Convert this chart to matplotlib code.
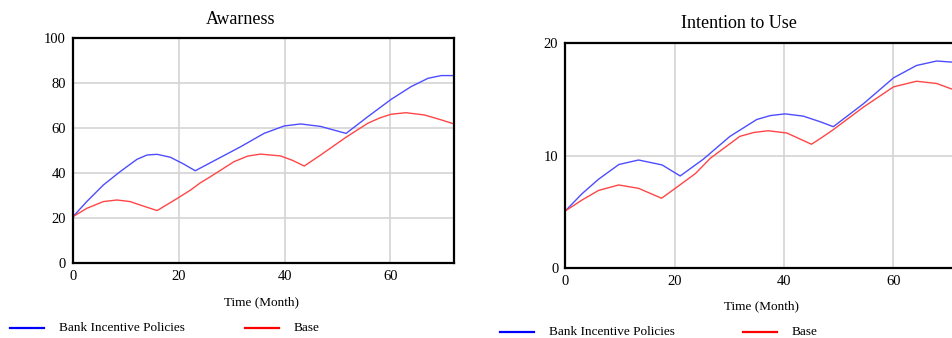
import matplotlib
matplotlib.use('Agg')
import matplotlib.pyplot as plt
from matplotlib.lines import Line2D

plt.rcParams['font.family'] = ['Liberation Serif', 'DejaVu Serif']

# Awarness
aw_bank_t = [0, 2.6, 5.75, 8.9, 12.1, 14.0, 15.9, 18.4, 20.9, 23.1, 27.2, 31.7, 36.1, 39.9,
             43.0, 46.8, 51.6, 55.7, 60.1, 63.9, 67.1, 69.6, 72]
aw_bank_v = [20.6, 27.3, 34.7, 40.6, 46.1, 48.0, 48.3, 47.0, 44, 41.0, 46.1, 51.7, 57.6, 60.9,
             61.8, 60.7, 57.6, 65, 72.7, 78.4, 82.1, 83.3, 83.3]
aw_base_t = [0, 2.6, 5.75, 8.3, 10.8, 13.3, 15.9, 19.7, 22.2, 24.1, 26, 30.4, 33, 35.4, 39.2,
             41.5, 43.7, 46.8, 51.6, 55.7, 58, 60.1, 62.9, 66.4, 69.6, 72]
aw_base_v = [20.6, 24.3, 27.3, 28, 27.3, 25.3, 23.3, 28.7, 32.4, 35.7, 38.4, 45.0, 47.5, 48.4,
             47.6, 45.6, 43.1, 48, 55.9, 62.1, 64.5, 66.1, 66.8, 65.8, 63.6, 61.8]

# Intention to Use
iu_bank_t = [0, 3.05, 6.1, 9.8, 13.4, 17.7, 21.0, 25.2, 30.1, 35.0, 37.5, 40.2, 43.5, 46.6,
             49.0, 54.5, 60, 64.2, 67.9, 70.7, 72]
iu_bank_v = [5.07, 6.6, 7.9, 9.2, 9.6, 9.16, 8.18, 9.66, 11.7, 13.2, 13.55, 13.7, 13.5, 13.0,
             12.56, 14.6, 16.9, 18.0, 18.4, 18.3, 18.2]
iu_base_t = [0, 3.05, 6.1, 9.76, 13.4, 17.6, 20.1, 23.8, 26.5, 31.9, 34.5, 37.1, 40.5, 45.0,
             46.6, 49.0, 54.5, 60, 64.2, 67.9, 70.7, 72]
iu_base_v = [5.07, 6.04, 6.9, 7.38, 7.08, 6.2, 7.08, 8.4, 9.75, 11.7, 12.05, 12.2, 12.0, 11.0,
             11.5, 12.3, 14.3, 16.1, 16.6, 16.4, 15.9, 15.6]

x_ticks = [0, 20, 40, 60]
series_names = ['Bank Incentive Policies', 'Base']

W, H = 952, 338
fig = plt.figure(figsize=(W / 100, H / 100), dpi=100)


def px(x, y):
    return x / W, 1 - y / H


def setup(ax, ymax, yticks):
    ax.set_xlim(0, 72)
    ax.set_ylim(0, ymax)
    ax.set_xticks(x_ticks)
    ax.set_yticks(yticks)
    ax.grid(True, color='#d4d4d4', linewidth=1.2)
    ax.set_axisbelow(True)
    for s in ax.spines.values():
        s.set_linewidth(1.6)
        s.set_color('black')
    ax.tick_params(length=0, pad=5, labelsize=10.5, colors='black')


ax1 = fig.add_axes([73 / W, 1 - 263 / H, (454 - 73) / W, 225 / H])
setup(ax1, 100, [0, 20, 40, 60, 80, 100])
ax1.plot(aw_bank_t, aw_bank_v, color='#4d4dff', lw=1.0)
ax1.plot(aw_base_t, aw_base_v, color='#ff4646', lw=1.0)

ax2 = fig.add_axes([565.3 / W, 1 - 268 / H, 72 * 5.47 / W, 225 / H])
setup(ax2, 20, [0, 10, 20])
ax2.plot(iu_bank_t, iu_bank_v, color='#4d4dff', lw=1.0)
ax2.plot(iu_base_t, iu_base_v, color='#ff4646', lw=1.0)

# titles and axis labels
fig.text(*px(241, 19), 'Awarness', ha='center', va='center', fontsize=13)
fig.text(*px(739, 24), 'Intention to Use', ha='center', va='center', fontsize=13)
fig.text(*px(262, 302), 'Time (Month)', ha='center', va='center', fontsize=9.5)
fig.text(*px(761, 306), 'Time (Month)', ha='center', va='center', fontsize=9.5)

# legends below each panel
for (x0, y0, x_red) in [(10, 328, 245), (500, 332, 743)]:
    for xs, col, name in [(x0, 'blue', series_names[0]), (x_red, 'red', series_names[1])]:
        a, b = px(xs, y0)
        c, _ = px(xs + 34, y0)
        fig.add_artist(Line2D([a, c], [b, b], color=col, lw=1.6, transform=fig.transFigure))
        fig.text(*px(xs + 49, y0), name, ha='left', va='center', fontsize=9.5)

fig.savefig('out.png', dpi=100)
